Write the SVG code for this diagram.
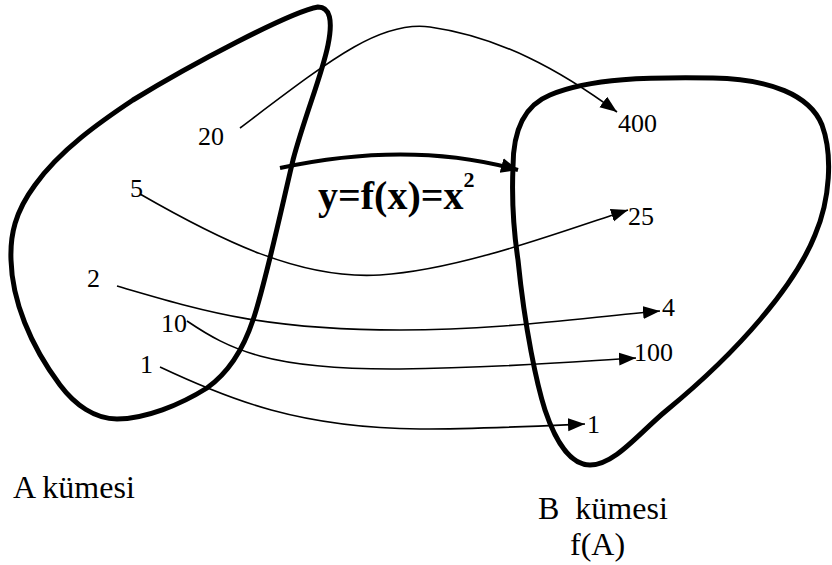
<svg xmlns="http://www.w3.org/2000/svg" width="832" height="565" viewBox="0 0 832 565">
<style>
.set{fill:none;stroke:#000;stroke-width:5;stroke-linejoin:round}
.con{fill:none;stroke:#000;stroke-width:1.6}
text{font-family:"Liberation Serif",Tinos,"Times New Roman",Times,"DejaVu Serif",serif;fill:#000}
.num{font-size:26px}
.lbl{font-size:32px}
.fn{font-weight:bold}
</style>
<defs>
<marker id="ah" markerUnits="userSpaceOnUse" markerWidth="18" markerHeight="14" refX="17" refY="6.5" orient="auto">
<path d="M0,0 L17,6.5 L0,13 Z" fill="#000"/>
</marker>
<marker id="ahb" markerUnits="userSpaceOnUse" markerWidth="18" markerHeight="16" refX="17" refY="7.5" orient="auto">
<path d="M0,0 L17,7.5 L0,15 Z" fill="#000"/>
</marker>
</defs>
<g id="setA">
<path class="set" d="M318,7 C290,12 190,65 133,100 C100,122 60,150 35,185 C15,212 10,235 11,260 C12,300 30,345 60,385 C75,405 95,419 117,419 C145,419 180,405 207,388 C228,373 243,350 253,320 C265,285 280,215 293,160 C305,115 322,75 328,45 C333,20 330,7 318,7 Z"/>
</g>
<g id="setB">
<path class="set" d="M513,167 C513,130 525,105 550,95 C590,78 650,77 713,78 C770,79 810,95 822,125 C833,155 830,200 815,235 C795,285 740,350 667,410 C640,432 615,465 590,465 C570,465 555,440 545,410 C537,385 525,330 518,260 C512,220 512,190 513,167 Z"/>
</g>
<g id="connectors">
<path class="con" marker-end="url(#ah)" d="M240,128 C330,60 380,20 430,27 C500,37 560,70 617,112"/>
<path class="con" marker-end="url(#ah)" d="M140,194 C220,240 300,280 380,275 C460,270 560,232 628,210"/>
<path class="con" marker-end="url(#ah)" d="M117,286 C200,310 260,330 400,330 C500,330 580,318 660,311"/>
<path class="con" marker-end="url(#ah)" d="M187,321 C230,350 270,370 400,369 C500,368 570,362 636,358"/>
<path class="con" marker-end="url(#ah)" d="M160,367 C230,400 300,428 420,429 C480,429 540,426 585,424"/>
<path fill="none" stroke="#000" stroke-width="4" marker-end="url(#ahb)" d="M280,168 Q410,140 518,170"/>
</g>
<g id="labelsA">
<text class="num" x="198" y="145">20</text>
<text class="num" x="130" y="197">5</text>
<text class="num" x="87" y="287">2</text>
<text class="num" x="161" y="332">10</text>
<text class="num" x="140" y="373">1</text>
</g>
<g id="labelsB">
<text class="num" x="618" y="132">400</text>
<text class="num" x="628" y="225">25</text>
<text class="num" x="662" y="316">4</text>
<text class="num" x="634" y="361">100</text>
<text class="num" x="587" y="433">1</text>
</g>
<g id="function">
<text class="fn" x="318" y="209" font-size="40">y=f(x)=x<tspan font-size="22" dy="-22">2</tspan></text>
</g>
<g id="titles">
<text class="lbl" x="13" y="498">A kümesi</text>
<text class="lbl" x="538" y="519" xml:space="preserve">B  kümesi</text>
<text class="lbl" x="570" y="555">f(A)</text>
</g>
</svg>
